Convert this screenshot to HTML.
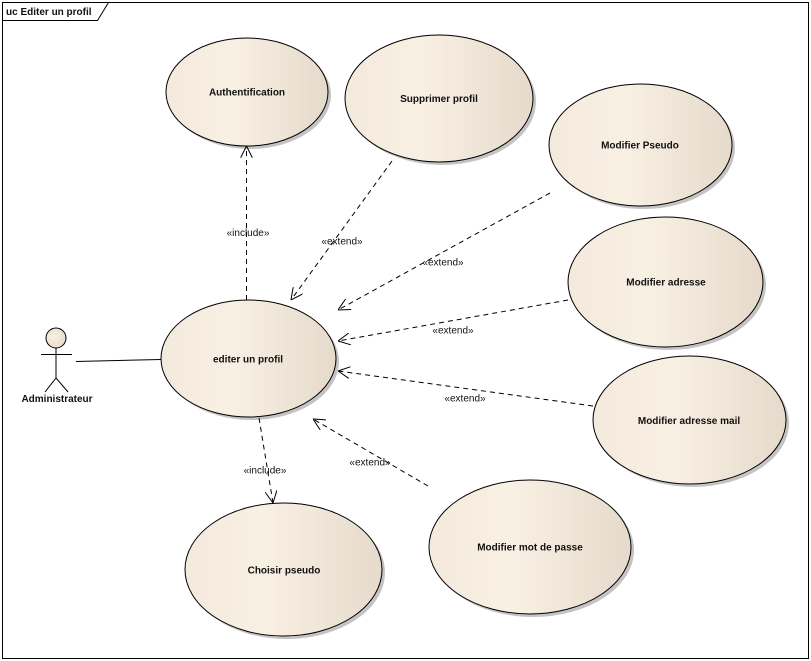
<!DOCTYPE html>
<html><head><meta charset="utf-8"><style>
html,body{margin:0;padding:0;background:#fff;}
svg{display:block;}
text{font-family:"Liberation Sans",Arial,sans-serif;}
.b{font-weight:bold;font-size:10px;fill:#111;}
.l{font-size:10px;fill:#111;}
</style></head><body>
<svg width="811" height="661" viewBox="0 0 811 661" xmlns="http://www.w3.org/2000/svg">
<defs>
<linearGradient id="g" x1="0" y1="0" x2="1" y2="0">
<stop offset="0" stop-color="#f3e9dc"/>
<stop offset="0.4" stop-color="#f9f0e4"/>
<stop offset="1" stop-color="#e5dacb"/>
</linearGradient>
<radialGradient id="hg" cx="0.4" cy="0.4" r="0.7">
<stop offset="0" stop-color="#f9f0e4"/>
<stop offset="1" stop-color="#e5dacb"/>
</radialGradient>
<marker id="a" viewBox="0 0 12 12" refX="12" refY="6" markerWidth="12" markerHeight="12" markerUnits="userSpaceOnUse" orient="auto">
<path d="M0,0 L12,6 L0,12" fill="none" stroke="#000" stroke-width="1" stroke-dasharray="none"/>
</marker>
</defs>
<rect x="0" y="0" width="811" height="661" fill="#fff"/>
<!-- frame -->
<rect x="2.5" y="2.5" width="806" height="656" fill="none" stroke="#000" stroke-width="1"/>
<path d="M2.5,20.5 L97.5,20.5 L108.5,2.5" fill="none" stroke="#000" stroke-width="1"/>
<text x="6" y="15" class="b">uc Editer un profil</text>

<!-- shadows -->
<g fill="#c4c4c4">
<ellipse cx="250" cy="95" rx="81" ry="54"/>
<ellipse cx="442" cy="101.5" rx="94" ry="63.5"/>
<ellipse cx="643.5" cy="148" rx="91.5" ry="61"/>
<ellipse cx="668.5" cy="285" rx="97.5" ry="65"/>
<ellipse cx="692.5" cy="423" rx="96.5" ry="64"/>
<ellipse cx="533" cy="550" rx="101" ry="67"/>
<ellipse cx="251.5" cy="361.5" rx="87.5" ry="58.5"/>
<ellipse cx="286.5" cy="572.5" rx="98.5" ry="66.5"/>
</g>
<!-- ellipses -->
<g fill="url(#g)" stroke="#000" stroke-width="1">
<ellipse cx="247" cy="92" rx="81" ry="54"/>
<ellipse cx="439" cy="98.5" rx="94" ry="63.5"/>
<ellipse cx="640.5" cy="145" rx="91.5" ry="61"/>
<ellipse cx="665.5" cy="282" rx="97.5" ry="65"/>
<ellipse cx="689.5" cy="420" rx="96.5" ry="64"/>
<ellipse cx="530" cy="547" rx="101" ry="67"/>
<ellipse cx="248.5" cy="358.5" rx="87.5" ry="58.5"/>
<ellipse cx="283.5" cy="569.5" rx="98.5" ry="66.5"/>
</g>
<g class="b" text-anchor="middle">
<text x="247" y="95.5" class="b">Authentification</text>
<text x="439" y="102" class="b">Supprimer profil</text>
<text x="640" y="148.5" class="b">Modifier Pseudo</text>
<text x="666" y="285.5" class="b">Modifier adresse</text>
<text x="689" y="424" class="b">Modifier adresse mail</text>
<text x="530" y="550.5" class="b">Modifier mot de passe</text>
<text x="248" y="362.5" class="b">editer un profil</text>
<text x="284" y="573.5" class="b">Choisir pseudo</text>
</g>

<!-- actor -->
<circle cx="56" cy="338" r="10" fill="url(#hg)" stroke="#000" stroke-width="1"/>
<g stroke="#000" stroke-width="1" fill="none">
<line x1="56" y1="348" x2="56" y2="378"/>
<line x1="41" y1="354.5" x2="72" y2="354.5"/>
<line x1="56" y1="378" x2="45" y2="392"/>
<line x1="56" y1="378" x2="68" y2="392"/>
<line x1="76" y1="361.5" x2="161" y2="359.5"/>
</g>
<text x="57" y="402" class="b" text-anchor="middle">Administrateur</text>

<!-- connectors -->
<g stroke="#000" stroke-width="1" fill="none" stroke-dasharray="5,4">
<line x1="246.5" y1="300" x2="246.5" y2="146" marker-end="url(#a)"/>
<line x1="392" y1="161" x2="291" y2="300" marker-end="url(#a)"/>
<line x1="550" y1="193" x2="338" y2="310" marker-end="url(#a)"/>
<line x1="568" y1="300" x2="338" y2="341" marker-end="url(#a)"/>
<line x1="593" y1="406" x2="338" y2="371" marker-end="url(#a)"/>
<line x1="428" y1="486" x2="313" y2="419" marker-end="url(#a)"/>
<line x1="259" y1="418" x2="273" y2="503" marker-end="url(#a)"/>
</g>
<g class="l" text-anchor="middle">
<text x="248" y="236" class="l">«include»</text>
<text x="342" y="244.5" class="l">«extend»</text>
<text x="443" y="265.5" class="l">«extend»</text>
<text x="453" y="333.5" class="l">«extend»</text>
<text x="465" y="401.5" class="l">«extend»</text>
<text x="370" y="465.5" class="l">«extend»</text>
<text x="265" y="473.5" class="l">«include»</text>
</g>
</svg>
</body></html>
